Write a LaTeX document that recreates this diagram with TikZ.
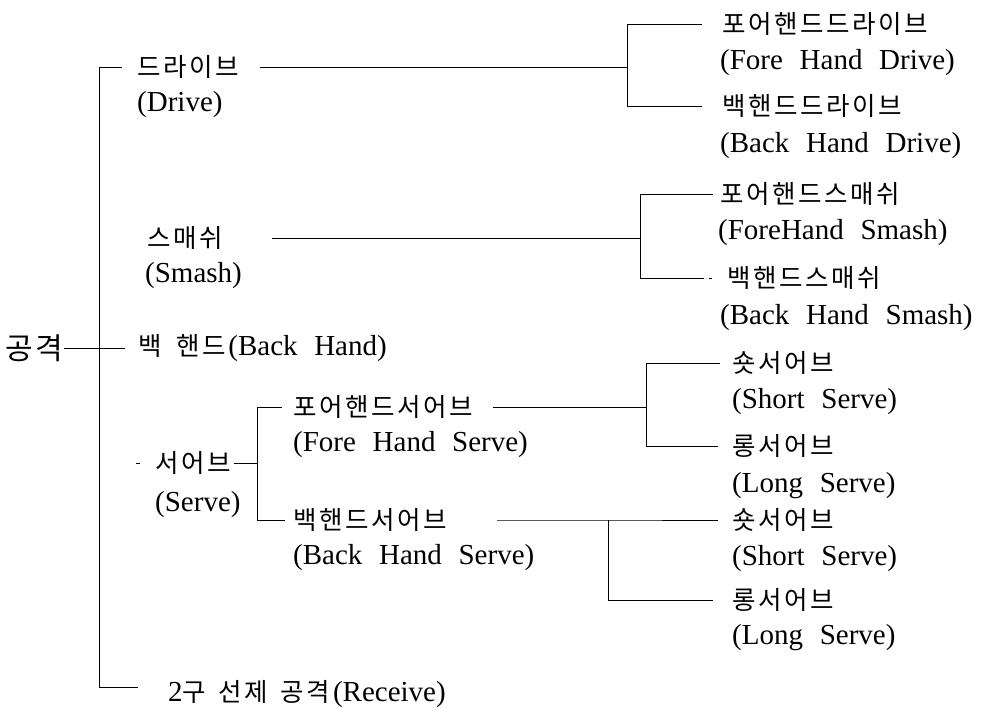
\documentclass[tikz,border=0pt]{standalone}
\usepackage{fontspec}
\setmainfont{Liberation Serif}[WordSpace=2.3]
\newfontfamily\kr{Noto Sans CJK KR}
\makeatletter
\newcommand\spc[1]{\@tfor\kc:=#1\do{\kc\kern2.6pt}}
\makeatother
\newcommand\hk[1]{{\kr\fontsize{25.5}{28}\selectfont\spc{#1}}}
\begin{document}
\begin{tikzpicture}[x=1pt,y=-1pt]
\tikzset{
  lbl/.style={anchor=west, inner sep=0pt, font=\fontsize{29}{32}\selectfont},
  kl/.style={anchor=west, inner sep=0pt, font=\kr\fontsize{25.5}{28}\selectfont},
  ln/.style={line width=0.9pt, black},
}
\useasboundingbox (0,0) rectangle (985,708);

% root and main trunk
\node[anchor=west, inner sep=0pt, font=\kr\fontsize{30}{33}\selectfont] (root) at (5,348) {공\kern3pt 격};
\coordinate (mTop) at (99,67);
\coordinate (mBot) at (99,687);
\coordinate (tTop) at (122,67);
\coordinate (tRoot) at (125,348);
\coordinate (tBot) at (138,687);
\draw[ln] (tTop) -- (mTop) -- (mBot) -- (tBot);
\draw[ln] (root.east) -- (tRoot);

% Drive
\node[kl] (drive) at (137,67) {\spc{드라이브}};
\node[lbl] (driveE) at (137,105) {(Drive)};
\node[kl] (fhd) at (722,24) {\spc{포어핸드드라이브}};
\node[lbl] (fhdE) at (720,63) {(Fore Hand Drive)};
\node[kl] (bhd) at (722,106) {\spc{백핸드드라이브}};
\node[lbl] (bhdE) at (720,146) {(Back Hand Drive)};
\coordinate (sD) at (260,67);
\coordinate (jD) at (627,67);
\coordinate (jDt) at (627,24);
\coordinate (jDb) at (627,106);
\coordinate (eDt) at (702,24);
\coordinate (eDb) at (702,106);
\draw[ln] (sD) -- (jD);
\draw[ln] (eDt) -- (jDt) -- (jDb) -- (eDb);

% Smash
\node[kl] (smash) at (147,238) {\spc{스매쉬}};
\node[lbl] (smashE) at (145,276) {(Smash)};
\node[kl] (fhs) at (720,194) {\spc{포어핸드스매쉬}};
\node[lbl] (fhsE) at (718,233) {(ForeHand Smash)};
\node[kl] (bhs) at (727,278) {\spc{백핸드스매쉬}};
\node[lbl] (bhsE) at (720,318) {(Back Hand Smash)};
\coordinate (sS) at (272,238);
\coordinate (jS) at (640,238);
\coordinate (jSt) at (640,194);
\coordinate (jSb) at (640,278);
\coordinate (eSt) at (713,194);
\coordinate (eSb) at (704,278);
\draw[ln] (sS) -- (jS);
\draw[ln] (eSt) -- (jSt) -- (jSb) -- (eSb);
\draw[ln] ([xshift=-18pt]bhs.west) -- ([xshift=-15pt]bhs.west);

% Back hand
\node[lbl] (bh) at (138,348) {\hk{백}\hspace{12pt}\hk{핸드}(Back Hand)};

% Serve
\node[kl] (serve) at (155,463) {\spc{서어브}};
\node[lbl] (serveE) at (155,505) {(Serve)};
\draw[ln] ([xshift=-19pt]serve.west) -- ([xshift=-15pt]serve.west);
\coordinate (jV) at (257,463);
\coordinate (jVt) at (257,407);
\coordinate (jVb) at (257,520);
\draw[ln] (serve.east) -- (jV);
\node[kl] (fsv) at (293,407) {\spc{포어핸드서어브}};
\node[lbl] (fsvE) at (293,445) {(Fore Hand Serve)};
\node[kl] (bsv) at (293,520) {\spc{백핸드서어브}};
\node[lbl] (bsvE) at (293,558) {(Back Hand Serve)};
\draw[ln] ([xshift=-11pt]fsv.west) -- (jVt) -- (jVb) -- ([xshift=-8pt]bsv.west);

% Fore hand serve children
\node[kl] (ss1) at (732,363) {\spc{숏서어브}};
\node[lbl] (ss1E) at (732,402) {(Short Serve)};
\node[kl] (ls1) at (732,446) {\spc{롱서어브}};
\node[lbl] (ls1E) at (732,486) {(Long Serve)};
\coordinate (sF) at (493,407);
\coordinate (jF) at (646,407);
\coordinate (jFt) at (646,363);
\coordinate (jFb) at (646,446);
\draw[ln] (sF) -- (jF);
\draw[ln] ([xshift=-12pt]ss1.west) -- (jFt) -- (jFb) -- ([xshift=-14pt]ls1.west);

% Back hand serve children
\node[kl] (ss2) at (732,520) {\spc{숏서어브}};
\node[lbl] (ss2E) at (732,559) {(Short Serve)};
\node[kl] (ls2) at (732,600) {\spc{롱서어브}};
\node[lbl] (ls2E) at (732,638) {(Long Serve)};
\coordinate (sB) at (497,520);
\coordinate (jB) at (608,520);
\coordinate (jBb) at (608,600);
\draw[ln] (sB) -- (jB) -- ([xshift=-14pt]ss2.west);
\draw[ln] (jB) -- (jBb) -- ([xshift=-19pt]ls2.west);

% Receive
\node[lbl] (recv) at (168,694) {2\hk{구}\hspace{10pt}\hk{선제}\hspace{10pt}\hk{공격}(Receive)};
\end{tikzpicture}
\end{document}
